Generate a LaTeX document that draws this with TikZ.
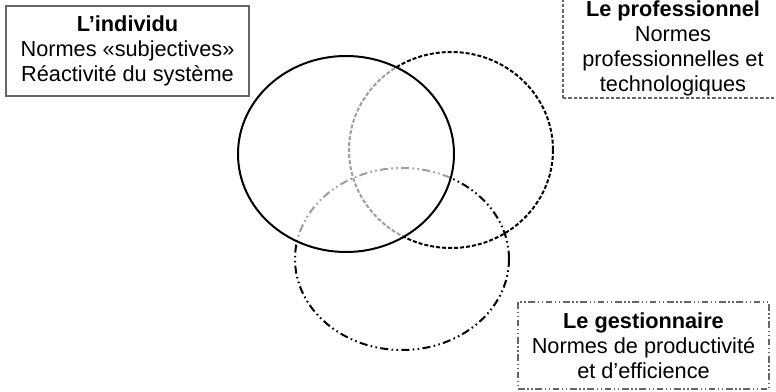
\documentclass[tikz,border=0pt]{standalone}
\usepackage{fontspec}
\setmainfont{Liberation Sans}
\usetikzlibrary{positioning}

\begin{document}
\begin{tikzpicture}[x=0.75pt, y=-0.75pt,
    box/.style={rectangle, draw=gray!80!black, line width=1.1pt, align=center,
      inner sep=0pt, font=\fontsize{16.3}{18.6}\selectfont},
    ring/.style={line width=1.5pt}]
    \useasboundingbox (0,0) rectangle (776,392);

    % the three circles
    \coordinate (cindividu) at (346, 154);
    \coordinate (cprofessionnel) at (451, 150);
    \coordinate (cgestionnaire) at (402, 259);
    \draw [ring, dash pattern=on 3pt off 1.5pt] (cprofessionnel) ellipse [x radius=102, y radius=98];
    \draw [ring, dash pattern=on 6pt off 2.5pt on 1.2pt off 2.5pt on 1.2pt off 2.5pt] (cgestionnaire) ellipse [x radius=107, y radius=91];
    \fill [white, fill opacity=0.62] (cindividu) ellipse [x radius=108, y radius=98];
    \draw [ring] (cindividu) ellipse [x radius=108, y radius=98];

    % the boxes
    \node [box, minimum width=243*0.75pt, minimum height=90*0.75pt] (individu) at (127.5, 51)
      {\textbf{L’individu}\\Normes «subjectives»\\Réactivité du système};
    \node [box, dash pattern=on 2.5pt off 1.5pt, minimum width=220*0.75pt, minimum height=99*0.75pt] (professionnel) at (673, 48.5)
      {\textbf{Le professionnel}\\Normes\\professionnelles et\\technologiques};
    \node [box, dash pattern=on 5pt off 2pt on 1pt off 2pt on 1pt off 2pt, minimum width=251*0.75pt, minimum height=87*0.75pt] (gestionnaire) at (643.5, 345.5)
      {\textbf{Le gestionnaire}\\Normes de productivité\\et d’efficience};
\end{tikzpicture}
\end{document}
